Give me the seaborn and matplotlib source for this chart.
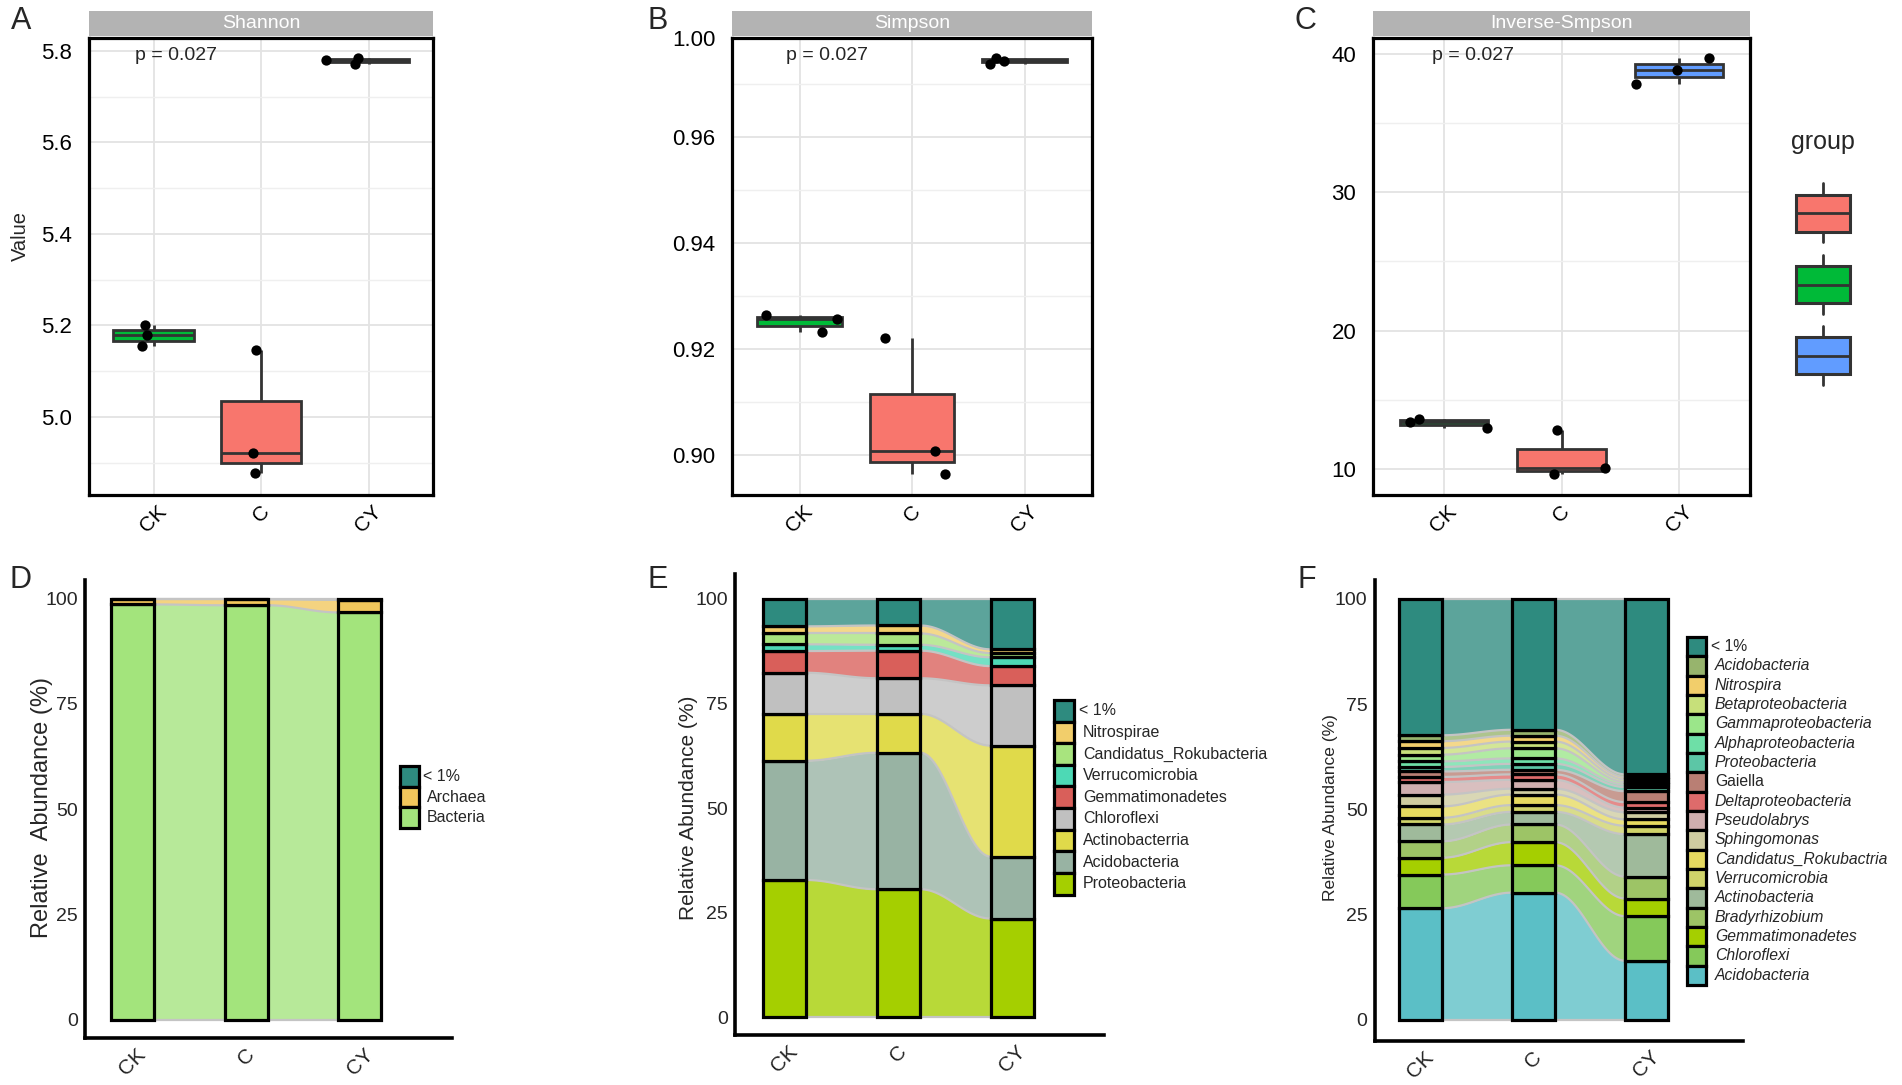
import numpy as np
import pandas as pd
import matplotlib.pyplot as plt
import seaborn as sns
from matplotlib.patches import Rectangle

sns.set_style('white')
plt.rcParams['font.family'] = ['Liberation Sans', 'DejaVu Sans']

# ---------------- data ----------------
groups = ['CK', 'C', 'CY']
group_colors = {'CK': '#00BA38', 'C': '#F8766D', 'CY': '#619CFF'}

shannon_ck = [5.155, 5.178, 5.200]
shannon_c = [4.876, 4.921, 5.146]
shannon_cy = [5.771, 5.781, 5.784]

simpson_ck = [0.9231, 0.9256, 0.9264]
simpson_c = [0.8963, 0.9008, 0.9221]
simpson_cy = [0.9738, 0.9744, 0.9749]

invsimpson_ck = [12.93, 13.43, 13.61]
invsimpson_c = [9.62, 10.05, 12.81]
invsimpson_cy = [37.82, 38.82, 39.67]

p_label = 'p = 0.027'

# domain level (legend order, top -> bottom)
domain_taxa = ['< 1%', 'Archaea', 'Bacteria']
domain_ck = [0.2, 1.2, 98.6]
domain_c = [0.2, 1.4, 98.4]
domain_cy = [0.3, 3.0, 96.7]

# phylum level
phylum_taxa = ['< 1%', 'Nitrospirae', 'Candidatus_Rokubacteria', 'Verrucomicrobia',
               'Gemmatimonadetes', 'Chloroflexi', 'Actinobacterria', 'Acidobacteria',
               'Proteobacteria']
phylum_ck = [6.6, 1.7, 2.6, 1.6, 5.2, 9.8, 11.2, 28.5, 32.8]
phylum_c = [6.4, 1.9, 2.7, 1.4, 6.6, 8.5, 9.3, 32.6, 30.6]
phylum_cy = [12.1, 0.9, 1.0, 2.1, 4.6, 14.4, 26.5, 14.8, 23.6]

# class / genus level
genus_taxa = ['< 1%', 'Acidobacteria', 'Nitrospira', 'Betaproteobacteria',
              'Gammaproteobacteria', 'Alphaproteobacteria', 'Proteobacteria', 'Gaiella',
              'Deltaproteobacteria', 'Pseudolabrys', 'Sphingomonas',
              'Candidatus_Rokubactria', 'Verrucomicrobia', 'Actinobacteria',
              'Bradyrhizobium', 'Gemmatimonadetes', 'Chloroflexi', 'Acidobacteria']
genus_ck = [32.4, 1.4, 1.6, 1.6, 1.6, 1.3, 1.1, 1.3, 1.2, 3.0, 2.8, 2.7, 1.6, 4.0, 3.9, 4.0, 8.0, 26.5]
genus_c = [31.1, 1.4, 1.4, 1.6, 2.4, 1.3, 1.4, 1.1, 1.3, 2.1, 1.4, 2.5, 1.6, 3.0, 4.2, 5.5, 6.5, 30.2]
genus_cy = [41.7, 0.6, 0.6, 0.6, 0.6, 0.6, 1.0, 2.6, 1.3, 1.1, 1.7, 1.5, 2.0, 10.1, 5.2, 4.2, 10.6, 14.0]

# colours
domain_colors = ['#2E8B7F', '#F2C75C', '#A3E47C']
phylum_colors = ['#2E8B7F', '#F2CE6B', '#A8E47E', '#4DD9B5', '#D95F5A', '#C0C0C0',
                 '#E0DA4A', '#98B3A3', '#A5CF00']
genus_colors = ['#2E8B7F', '#97B46D', '#F2CE6B', '#C7E07A', '#9BE68A', '#6EDFA7',
                '#5CC6A6', '#B97F74', '#DE6B6B', '#CFAEAE', '#CFCCA0', '#E6DA60',
                '#CFD36A', '#9FBA9B', '#9DC466', '#A5CF00', '#85C95A', '#5BBFC6']

# jitter of the dots (category units), same order as the values
shannon_jit = [[-0.106, -0.064, -0.075], [-0.06, -0.072, -0.045], [-0.125, -0.40, -0.10]]
simpson_jit = [[0.20, 0.33, -0.30], [0.29, 0.20, -0.24], [-0.31, -0.18, -0.25]]
invsimpson_jit = [[0.37, -0.29, -0.21], [-0.06, 0.37, -0.04], [-0.37, -0.02, 0.25]]

# ---------------- figure ----------------
W, H = 1902, 1085
fig = plt.figure(figsize=(W / 100, H / 100), dpi=100)


def add_ax(x0, y0, x1, y1):
    return fig.add_axes([x0 / W, 1 - y1 / H, (x1 - x0) / W, (y1 - y0) / H])


def alpha_panel(box, title, values, jitter, ylim, major, minor, p_x, ticklabels=None):
    ax = add_ax(*box)
    df = pd.DataFrame({'group': np.repeat(groups, 3), 'value': np.concatenate(values)})
    ax.set_axisbelow(True)
    sns.boxplot(data=df, x='group', y='value', hue='group', order=groups,
                palette=group_colors, saturation=1, width=0.75, linecolor='#333333',
                linewidth=2, showcaps=False, fliersize=0, legend=False, ax=ax)
    xs = [i + o for i, offs in enumerate(jitter) for o in offs]
    ax.scatter(xs, df['value'], s=55, color='black', linewidths=0, zorder=5)
    ax.set_xlim(-0.6, 2.6)
    ax.set_ylim(*ylim)
    ax.set_yticks(major)
    if ticklabels is not None:
        ax.set_yticklabels(ticklabels)
    ax.set_yticks(minor, minor=True)
    ax.grid(True, which='major', color='#E3E3E3', linewidth=1.3)
    ax.grid(True, which='minor', axis='y', color='#EFEFEF', linewidth=1.0)
    for sp in ax.spines.values():
        sp.set_linewidth(2.3)
        sp.set_color('black')
    ax.tick_params(axis='y', which='major', length=4, width=1.2, color='#333333',
                   labelsize=16, labelcolor='black', pad=8)
    ax.tick_params(axis='x', which='major', length=4, width=1.2, color='#333333',
                   labelsize=15, labelcolor='black', pad=1)
    ax.tick_params(axis='y', which='minor', length=0)
    ax.set_xlabel('')
    ax.set_ylabel('')
    plt.setp(ax.get_xticklabels(), rotation=45, ha='center', va='top')
    sh = 25 / (box[3] - box[1])
    ax.add_patch(Rectangle((0, 1.004), 1, sh, transform=ax.transAxes, clip_on=False,
                           facecolor='#B3B3B3', edgecolor='none'))
    ax.text(0.5, 1.004 + sh / 2, title, transform=ax.transAxes, ha='center',
            va='center', color='white', fontsize=14)
    ax.text(p_x, 0.962, p_label, transform=ax.transAxes, ha='left', va='center',
            fontsize=14)
    return ax


alpha_panel((89, 38, 433, 495), 'Shannon', [shannon_ck, shannon_c, shannon_cy],
            shannon_jit, (4.829, 5.828), [5.0, 5.2, 5.4, 5.6, 5.8],
            [4.9, 5.1, 5.3, 5.5, 5.7], 0.135)
simp_top = 0.9787
alpha_panel((732, 38, 1092, 495), 'Simpson', [simpson_ck, simpson_c, simpson_cy],
            simpson_jit, (0.8924, simp_top), [0.90, 0.92, 0.94, 0.96, simp_top],
            [0.91, 0.93, 0.95, 0.97], 0.15, ['0.90', '0.92', '0.94', '0.96', '1.00'])
alpha_panel((1373, 38, 1750, 495), 'Inverse-Smpson',
            [invsimpson_ck, invsimpson_c, invsimpson_cy], invsimpson_jit,
            (8.12, 41.15), [10, 20, 30, 40], [15, 25, 35], 0.157)

fig.text(20 / W, 1 - 236 / H, 'Value', rotation=90, ha='center', va='center',
         fontsize=14.5)

# group legend (keys without labels)
lg = add_ax(1770, 120, 1880, 400)
lg.set_xlim(1770, 1880)
lg.set_ylim(400, 120)
lg.axis('off')
lg.text(1823, 142, 'group', ha='center', va='center', fontsize=18)
for col, (b0, b1, w0, w1) in zip(['#F8766D', '#00BA38', '#619CFF'],
                                 [(194.5, 232, 183, 242), (266, 303, 255, 314),
                                  (337, 374, 326, 385)]):
    lg.plot([1823, 1823], [w0, w1], color='#333333', lw=2)
    lg.add_patch(Rectangle((1796, b0), 54, b1 - b0, facecolor=col,
                           edgecolor='#333333', lw=2.2, zorder=3))
    lg.plot([1796, 1850], [(b0 + b1) / 2] * 2, color='#333333', lw=2, zorder=4)


# ---------------- alluvial panels ----------------
def alluvial_panel(box, taxa, table, colors, xlim, ylim, legend_box, upright):
    ax = add_ax(*box)
    vals = np.array(table, dtype=float)          # groups x taxa (legend order)
    stack = vals[:, ::-1]                         # bottom -> top
    cols = colors[::-1]
    bottoms = np.hstack([np.zeros((3, 1)), np.cumsum(stack, axis=1)])
    w = 0.38
    t = np.linspace(0, 1, 80)
    s = (1 - np.cos(np.pi * t)) / 2
    for i in range(2):
        x0, x1 = i + w / 2, i + 1 - w / 2
        xs = x0 + (x1 - x0) * t
        for k in range(stack.shape[1]):
            lo = bottoms[i, k] + (bottoms[i + 1, k] - bottoms[i, k]) * s
            hi = bottoms[i, k + 1] + (bottoms[i + 1, k + 1] - bottoms[i, k + 1]) * s
            ax.fill_between(xs, lo, hi, color=cols[k], alpha=0.78, lw=0, zorder=1)
        for k in range(stack.shape[1] + 1):
            ln = bottoms[i, k] + (bottoms[i + 1, k] - bottoms[i, k]) * s
            ax.plot(xs, ln, color='#C4C4C4', lw=1.6, zorder=2)
    for i in range(3):
        for k in range(stack.shape[1]):
            ax.bar(i, stack[i, k], bottom=bottoms[i, k], width=w, color=cols[k],
                   edgecolor='black', linewidth=2.3, zorder=3)
    ax.set_xlim(*xlim)
    ax.set_ylim(*ylim)
    ax.set_xticks([0, 1, 2])
    ax.set_xticklabels(groups, rotation=45, ha='center', va='top', fontsize=15)
    ax.set_yticks([0, 25, 50, 75, 100])
    ax.set_yticklabels(['0', '25', '50', '75', '100'], fontsize=14)
    for side in ['top', 'right']:
        ax.spines[side].set_visible(False)
    for side in ['left', 'bottom']:
        ax.spines[side].set_linewidth(2.6)
        ax.spines[side].set_color('black')
    ax.tick_params(axis='both', direction='out', length=4.5, width=2.4, color='black')
    ax.tick_params(axis='y', pad=0.5)
    ax.tick_params(axis='x', pad=0.5)

    # legend keys
    kx0, ky0, kx1, ky1, tx, fs = legend_box
    la = add_ax(kx0 - 5, ky0 - 5, kx0 + 260, ky1 + 5)
    la.set_xlim(kx0 - 5, kx0 + 260)
    la.set_ylim(ky1 + 5, ky0 - 5)
    la.axis('off')
    rh = (ky1 - ky0) / len(taxa)
    for j, (name, col) in enumerate(zip(taxa, colors)):
        y = ky0 + j * rh
        la.add_patch(Rectangle((kx0, y), kx1 - kx0, rh, facecolor=col,
                               edgecolor='black', lw=2.3))
        style = 'normal' if (upright == 'all' or j == 0 or name in upright) else 'italic'
        la.text(tx if j > 0 else tx - 4, y + rh / 2, name, ha='left', va='center',
                fontsize=fs, style=style)
    return ax


alluvial_panel((85, 580, 452, 1038), domain_taxa, [domain_ck, domain_c, domain_cy],
               domain_colors, (-0.417, 2.81), (-4.35, 104.4),
               (400, 766.5, 419, 828, 427, 11.5), 'all')
alluvial_panel((735, 574, 1103.5, 1034.6), phylum_taxa, [phylum_ck, phylum_c, phylum_cy],
               phylum_colors, (-0.435, 2.80), (-4.13, 105.9),
               (1054, 700, 1074, 894.5, 1083, 11.5), 'all')
alluvial_panel((1374.5, 580, 1743, 1040.5), genus_taxa, [genus_ck, genus_c, genus_cy],
               genus_colors, (-0.405, 2.85), (-4.94, 104.5),
               (1687, 637, 1706, 985, 1715, 11.3), ['Gaiella'])

fig.text(42 / W, 1 - 807 / H, 'Relative  Abundance (%)', rotation=90, ha='center',
         va='center', fontsize=17)
fig.text(689 / W, 1 - 808 / H, 'Relative Abundance (%)', rotation=90, ha='center',
         va='center', fontsize=15)
fig.text(1331 / W, 1 - 808 / H, 'Relative Abundance (%)', rotation=90, ha='center',
         va='center', fontsize=12.5)

# panel letters
for letter, x, y in [('A', 11, 6), ('B', 648, 6), ('C', 1294, 6),
                     ('D', 10, 565), ('E', 648, 565), ('F', 1298, 565)]:
    fig.text(x / W, 1 - y / H, letter, ha='left', va='top', fontsize=22)

fig.savefig('out.png', dpi=100)
